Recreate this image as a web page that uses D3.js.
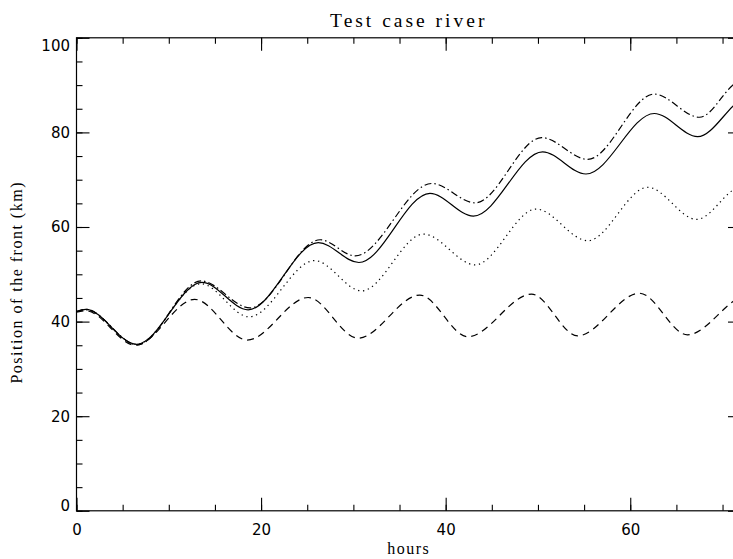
<!DOCTYPE html>
<html>
<head>
<meta charset="utf-8">
<script src="https://cdn.jsdelivr.net/npm/d3@7"></script>
<style>
  body { margin: 0; background: #fff; }
  svg { display: block; }
</style>
</head>
<body>
<svg id="chart"></svg>
<script>
// hours + front position (km) at the turning points of each run
const hoursSolid = [0, 1.0, 6.5, 13.6, 18.6, 26.2, 30.6, 38.3, 43.0, 50.5, 55.2, 62.6, 67.3, 71.1, 72];
const frontSolid = [42.1, 42.6, 35.2, 48.3, 42.5, 56.7, 52.5, 67.1, 62.3, 75.9, 71.2, 84.0, 79.1, 85.5, 87.3];

const hoursDashDot = [0, 1.0, 6.6, 13.5, 18.8, 26.4, 30.2, 38.5, 43.2, 50.4, 55.4, 62.6, 67.5, 71.1, 72];
const frontDashDot = [42.1, 42.6, 35.1, 48.6, 42.9, 57.3, 53.9, 69.2, 65.1, 78.9, 74.3, 88.1, 83.2, 90.0, 91.5];

const hoursDotted = [0, 1.0, 6.5, 13.5, 18.7, 25.8, 30.9, 37.6, 43.2, 49.8, 55.4, 61.9, 67.2, 71.1, 72];
const frontDotted = [42.1, 42.5, 35.2, 48.0, 41.0, 52.9, 46.5, 58.5, 52.0, 63.8, 57.1, 68.4, 61.6, 67.8, 69.0];

const hoursDashed = [0, 1.0, 6.4, 12.8, 18.5, 25.1, 30.5, 37.2, 42.4, 49.3, 54.3, 61.0, 66.2, 71.1, 72];
const frontDashed = [42.0, 42.3, 35.0, 44.7, 36.1, 45.1, 36.5, 45.6, 36.8, 45.8, 37.0, 46.0, 37.2, 44.2, 45.5];

const xTicks = [0, 20, 40, 60];
const yTicks = [0, 20, 40, 60, 80, 100];

const width = 733;
const height = 559;
const margin = { left: 76.5, right: 741, top: 37.8, bottom: 510.8 };

const svg = d3.select("#chart").attr("width", width).attr("height", height);

const x = d3.scaleLinear().domain([0, 72]).range([margin.left, margin.right]);
const y = d3.scaleLinear().domain([0, 100]).range([margin.bottom, margin.top]);

svg.append("clipPath").attr("id", "plot")
  .append("rect")
  .attr("x", margin.left).attr("y", margin.top)
  .attr("width", margin.right - margin.left).attr("height", margin.bottom - margin.top);

// frame
svg.append("rect")
  .attr("x", margin.left).attr("y", margin.top)
  .attr("width", margin.right - margin.left).attr("height", margin.bottom - margin.top)
  .attr("fill", "none").attr("stroke", "#000").attr("stroke-width", 1.2);

const minorX = d3.range(0, 73, 5);
const minorY = d3.range(0, 101, 5);

function styleAxis(g) {
  g.select(".domain").remove();
  g.selectAll("line").attr("stroke", "#000").attr("stroke-width", 1.1);
  g.selectAll("text")
    .attr("fill", "#000")
    .style("font-family", "'DejaVu Sans', sans-serif")
    .style("font-size", "15px");
}

// bottom
svg.append("g").attr("transform", `translate(0,${margin.bottom})`)
  .call(d3.axisBottom(x).tickValues(minorX).tickSize(-6).tickFormat(""))
  .call(styleAxis);
svg.append("g").attr("transform", `translate(0,${margin.bottom})`)
  .call(d3.axisBottom(x).tickValues(xTicks).tickSize(-13).tickPadding(13.5).tickFormat(d3.format("d")))
  .call(styleAxis);

// top
svg.append("g").attr("transform", `translate(0,${margin.top})`)
  .call(d3.axisTop(x).tickValues(minorX).tickSize(-6).tickFormat(""))
  .call(styleAxis);
svg.append("g").attr("transform", `translate(0,${margin.top})`)
  .call(d3.axisTop(x).tickValues(xTicks).tickSize(-13).tickFormat(""))
  .call(styleAxis);

// left
svg.append("g").attr("transform", `translate(${margin.left},0)`)
  .call(d3.axisLeft(y).tickValues(minorY).tickSize(-6).tickFormat(""))
  .call(styleAxis);
const yAxis = svg.append("g").attr("transform", `translate(${margin.left},0)`)
  .call(d3.axisLeft(y).tickValues(yTicks).tickSize(-13).tickPadding(6.5).tickFormat(d3.format("d")))
  .call(styleAxis);
// end labels stay inside the axis range
yAxis.selectAll("text")
  .attr("dy", d => d === 100 ? "0.85em" : d === 0 ? "0" : "0.32em");

// right
svg.append("g").attr("transform", `translate(${margin.right},0)`)
  .call(d3.axisRight(y).tickValues(minorY).tickSize(-6).tickFormat(""))
  .call(styleAxis);
svg.append("g").attr("transform", `translate(${margin.right},0)`)
  .call(d3.axisRight(y).tickValues(yTicks).tickSize(-13).tickFormat(""))
  .call(styleAxis);

// curves
const series = [
  { hours: hoursDashed, front: frontDashed, dash: "7,5" },
  { hours: hoursDotted, front: frontDotted, dash: "1.3,3.7" },
  { hours: hoursDashDot, front: frontDashDot, dash: "7,3,1.5,3" },
  { hours: hoursSolid, front: frontSolid, dash: null }
];

const line = d3.line()
  .x(d => x(d[0]))
  .y(d => y(d[1]))
  .curve(d3.curveMonotoneX);

svg.append("g").attr("clip-path", "url(#plot)")
  .selectAll("path")
  .data(series)
  .join("path")
  .attr("d", s => line(s.hours.map((h, i) => [h, s.front[i]])))
  .attr("fill", "none")
  .attr("stroke", "#000")
  .attr("stroke-width", 1.2)
  .attr("stroke-dasharray", s => s.dash);

// titles
const serif = "'Liberation Serif', serif";
svg.append("text")
  .attr("x", (margin.left + margin.right) / 2).attr("y", 27)
  .attr("text-anchor", "middle")
  .style("font-family", serif).style("font-size", "19.5px")
  .style("letter-spacing", "3px")
  .text("Test case river");

svg.append("text")
  .attr("x", (margin.left + margin.right) / 2).attr("y", 554)
  .attr("text-anchor", "middle")
  .style("font-family", serif).style("font-size", "16px")
  .style("letter-spacing", "1.5px")
  .text("hours");

svg.append("text")
  .attr("transform", `translate(22,${(margin.top + margin.bottom) / 2 + 8}) rotate(-90)`)
  .attr("text-anchor", "middle")
  .style("font-family", serif).style("font-size", "16px")
  .style("letter-spacing", "1.5px")
  .text("Position of the front (km)");
</script>
</body>
</html>
